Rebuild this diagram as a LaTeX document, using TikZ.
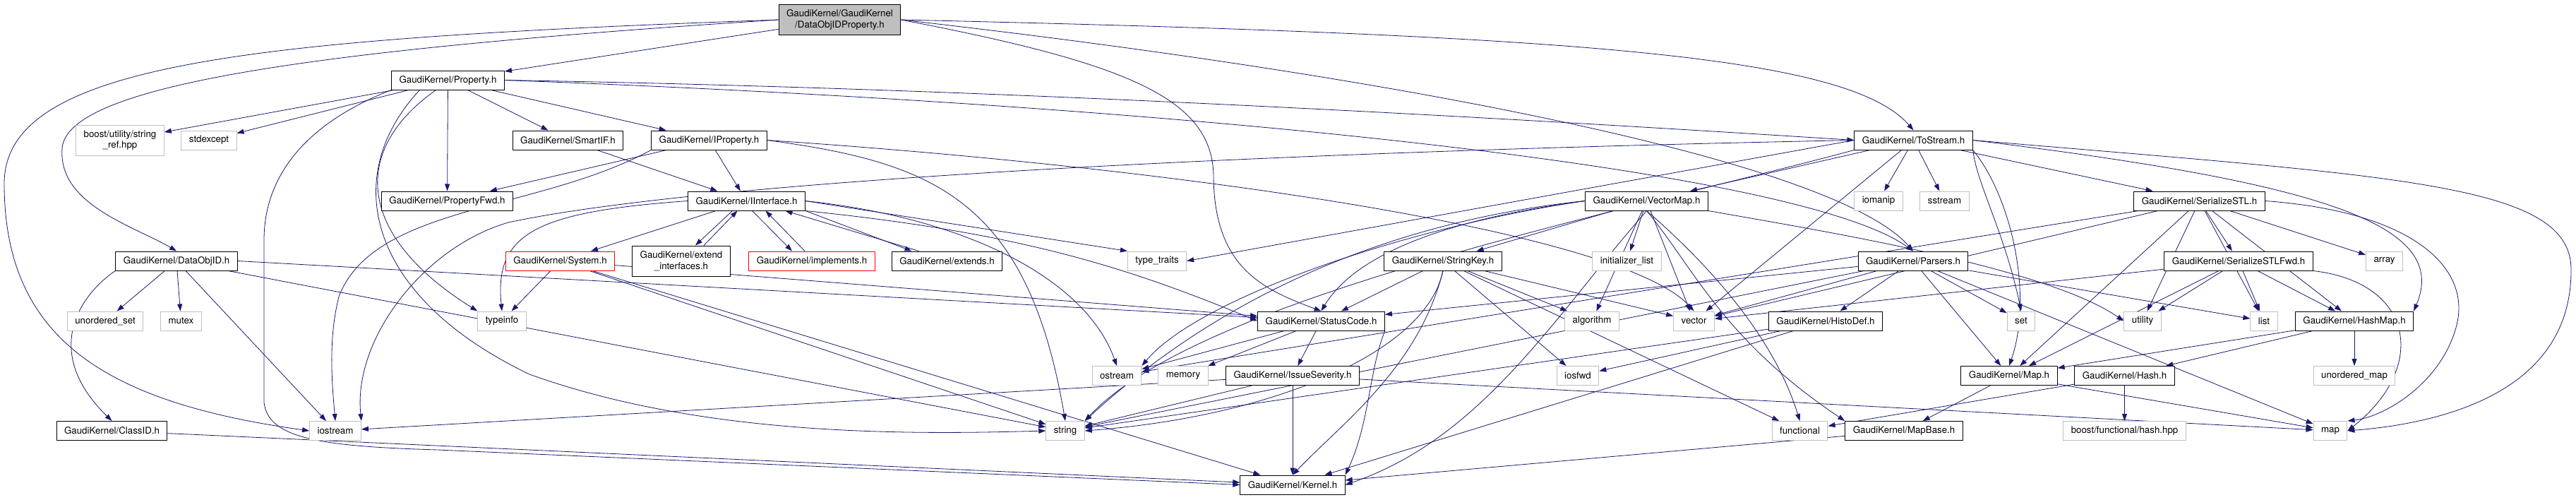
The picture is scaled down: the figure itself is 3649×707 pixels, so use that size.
\documentclass[tikz,border=0pt]{standalone}
\usepackage{fontspec}
\setmainfont{TeX Gyre Heros}
\usetikzlibrary{arrows.meta}
\definecolor{edgeblue}{HTML}{191970}
\definecolor{extgray}{HTML}{BFBFBF}
\pgfdeclarelayer{background}
\pgfsetlayers{background,main}

\begin{document}
\begin{tikzpicture}[x=1pt,y=-1pt,
    file/.style={rectangle,draw=black,fill=white,line width=1pt,inner xsep=11pt,inner ysep=0pt,
      minimum height=27pt,font=\fontsize{13.3}{15.5}\selectfont},
    ext/.style={file,draw=extgray},
    cut/.style={file,draw=red},
    two/.style={align=center,minimum height=43pt},
    dep/.style={draw=edgeblue,line width=0.8pt,-{Triangle[length=10pt,width=7pt]}}]
  \useasboundingbox (0,0) rectangle (3649,707);

  % files, row by row
  \node[file,fill=extgray,two] (root) at (1189.5,28) {GaudiKernel/GaudiKernel\\/DataObjIDProperty.h};
  \node[file] (prop) at (634.5,113.5) {GaudiKernel/Property.h};
  \node[ext,two] (boostref) at (170,198.5) {boost/utility/string\\\_ref.hpp};
  \node[ext] (stdexc) at (296,198.5) {stdexcept};
  \node[file] (smartif) at (804.5,198.5) {GaudiKernel/SmartIF.h};
  \node[file] (iprop) at (1004.5,198.5) {GaudiKernel/IProperty.h};
  \node[file] (tostream) at (2710.5,198.5) {GaudiKernel/ToStream.h};
  \node[file] (propfwd) at (633.5,284.5) {GaudiKernel/PropertyFwd.h};
  \node[file] (iiface) at (1057.5,284.5) {GaudiKernel/IInterface.h};
  \node[file] (vmap) at (2332.5,284.5) {GaudiKernel/VectorMap.h};
  \node[ext] (iomanip) at (2661,284.5) {iomanip};
  \node[ext] (sstream) at (2754.5,284.5) {sstream};
  \node[file] (sstl) at (3115.5,284.5) {GaudiKernel/SerializeSTL.h};
  \node[file] (dataobjid) at (250,369.5) {GaudiKernel/DataObjID.h};
  \node[cut] (system) at (793.5,369.5) {GaudiKernel/System.h};
  \node[file,two] (extif) at (965,369.5) {GaudiKernel/extend\\\_interfaces.h};
  \node[cut] (impl) at (1150,369.5) {GaudiKernel/implements.h};
  \node[file] (extends) at (1341.5,369.5) {GaudiKernel/extends.h};
  \node[ext] (typetraits) at (1639,369.5) {type\_traits};
  \node[file] (strkey) at (2044,369.5) {GaudiKernel/StringKey.h};
  \node[ext] (initlist) at (2304.5,369.5) {initializer\_list};
  \node[file] (parsers) at (2710,369.5) {GaudiKernel/Parsers.h};
  \node[file] (sstlfwd) at (3171,369.5) {GaudiKernel/SerializeSTLFwd.h};
  \node[ext] (array) at (3377.5,369.5) {array};
  \node[ext] (uset) at (149,454.5) {unordered\_set};
  \node[ext] (mutex) at (256.5,454.5) {mutex};
  \node[ext] (typeinfo) at (711,454.5) {typeinfo};
  \node[file] (statuscode) at (1871.5,454.5) {GaudiKernel/StatusCode.h};
  \node[ext] (algorithm) at (2255,454.5) {algorithm};
  \node[ext] (vector) at (2399.5,454.5) {vector};
  \node[file] (histodef) at (2586,454.5) {GaudiKernel/HistoDef.h};
  \node[ext] (set) at (2863,454.5) {set};
  \node[ext] (utility) at (3035,454.5) {utility};
  \node[ext] (list) at (3207,454.5) {list};
  \node[file] (hashmap) at (3335,454.5) {GaudiKernel/HashMap.h};
  \node[ext] (ostream) at (1582,532) {ostream};
  \node[ext] (memory) at (1676,532) {memory};
  \node[file] (issue) at (1831,532) {GaudiKernel/IssueSeverity.h};
  \node[ext] (iosfwd) at (2235,532) {iosfwd};
  \node[file] (maph) at (2846,532) {GaudiKernel/Map.h};
  \node[file] (hash) at (3009.5,532) {GaudiKernel/Hash.h};
  \node[ext] (umap) at (3335,532) {unordered\_map};
  \node[file] (classid) at (158.5,610) {GaudiKernel/ClassID.h};
  \node[ext] (iostream) at (475,610) {iostream};
  \node[ext] (string) at (1509,610) {string};
  \node[ext] (functional) at (2549.5,610) {functional};
  \node[file] (mapbase) at (2697,610) {GaudiKernel/MapBase.h};
  \node[ext] (boosthash) at (3009.5,610) {boost/functional/hash.hpp};
  \node[ext] (map) at (3301,610) {map};
  \node[file] (kernel) at (1831,686.5) {GaudiKernel/Kernel.h};

  \begin{pgfonlayer}{background}
  % DataObjIDProperty.h
  \draw[dep] (root) -- (prop);
  \draw[dep] (root.west) .. controls (450,70) and (95,120) .. (88,210) .. controls (82,290) and (190,320) .. (dataobjid.north);
  \draw[dep] (root.west) .. controls (350,55) and (6,90) .. (6,260) .. controls (6,480) and (150,570) .. (iostream.west);
  \draw[dep] (root.east) .. controls (2250,50) and (2620,80) .. (tostream.north);
  \draw[dep] (root.east) .. controls (2000,110) and (2600,230) .. (parsers.north);
  \draw[dep] (root.east) .. controls (1600,90) and (1718,140) .. (1719,250) .. controls (1720,380) and (1790,410) .. (statuscode.north);

  % Property.h
  \draw[dep] (prop) -- (boostref);
  \draw[dep] (prop) -- (stdexc);
  \draw[dep] (prop) -- (propfwd);
  \draw[dep] (prop) -- (smartif);
  \draw[dep] (prop) -- (iprop);
  \draw[dep] (prop.east) .. controls (1400,125) and (2100,165) .. (tostream.west);
  \draw[dep] (prop.east) .. controls (1700,150) and (2550,240) .. (parsers.north);
  \draw[dep] ([xshift=-17pt]prop.south) .. controls (500,210) and (500,330) .. (typeinfo.north west);
  \draw[dep] ([xshift=-40pt]prop.south) .. controls (480,250) and (520,420) .. (750,530) .. controls (1000,620) and (1300,615) .. (string.west);
  \draw[dep] (prop.south west) .. controls (420,180) and (374,260) .. (374,340) -- (374,570) .. controls (380,620) and (450,632) .. (620,637) -- (kernel.west);

  \draw[dep] (smartif) -- (iiface);

  % IProperty.h
  \draw[dep] (iprop) -- (propfwd);
  \draw[dep] (iprop) -- (iiface);
  \draw[dep] (iprop.south west) .. controls (760,300) and (530,290) .. (480,420) .. controls (465,480) and (470,540) .. (iostream.north);
  \draw[dep] (iprop.east) .. controls (1320,230) and (1455,280) .. (string.north);
  \draw[dep] (iprop.east) .. controls (1700,240) and (2300,330) .. (vector.north);

  % IInterface.h
  \draw[dep] (iiface) -- (system);
  \draw[dep] ([xshift=-20pt]iiface.south) -- ([xshift=20pt]extif.north);
  \draw[dep] ([xshift=32pt]extif.north) -- ([xshift=-13pt]iiface.south);
  \draw[dep] ([xshift=8pt]iiface.south) -- ([xshift=-28pt]impl.north);
  \draw[dep] ([xshift=-10pt]impl.north) -- ([xshift=27pt]iiface.south);
  \draw[dep] (iiface.south east) -- ([xshift=-50pt]extends.north);
  \draw[dep] ([xshift=-40pt]extends.north) -- ([xshift=55pt]iiface.south);
  \draw[dep] (iiface.east) -- (typetraits.north west);
  \draw[dep] (iiface.east) .. controls (1380,310) and (1540,400) .. (ostream.north);
  \draw[dep] (iiface.west) .. controls (760,300) and (700,330) .. (typeinfo.north);
  \draw[dep] (iiface.south east) .. controls (1450,330) and (1600,380) .. (statuscode.west);

  % System.h, DataObjID.h, ClassID.h
  \draw[dep] (system) -- (typeinfo);
  \draw[dep] (system) -- (string);
  \draw[dep] (system) -- (kernel);
  \draw[dep] (system) -- (statuscode);
  \draw[dep] (dataobjid) -- (uset);
  \draw[dep] (dataobjid) -- (mutex);
  \draw[dep] (dataobjid.south west) .. controls (110,420) and (60,500) .. (classid.north);
  \draw[dep] (dataobjid) -- (iostream);
  \draw[dep] (dataobjid) -- (string);
  \draw[dep] (dataobjid.east) -- (statuscode);
  \draw[dep] (classid) -- (kernel);

  % ToStream.h
  \draw[dep] (tostream) -- (iomanip);
  \draw[dep] (tostream) -- (sstream);
  \draw[dep] (tostream) -- (vector);
  \draw[dep] (tostream) -- (vmap);
  \draw[dep] (tostream) -- (sstl);
  \draw[dep] (tostream.west) -- (typetraits.east);
  \draw[dep] (tostream.south east) .. controls (2800,260) and (2840,330) .. (set.north);
  \draw[dep] (tostream.south east) .. controls (2850,280) and (2880,420) .. (maph.north);
  \draw[dep] (tostream.east) .. controls (3300,260) and (3470,320) .. (hashmap.north east);
  \draw[dep] (tostream.east) .. controls (3400,250) and (3640,260) .. (3642,380) .. controls (3644,560) and (3450,600) .. (map.east);
  \draw[dep] (tostream.south west) .. controls (2300,300) and (1700,420) .. (string.north east);
  \draw[dep] (tostream.west) .. controls (1800,215) and (1000,255) .. (720,315) .. controls (600,350) and (500,480) .. (iostream.north east);

  % VectorMap.h
  \draw[dep] (vmap) -- (strkey);
  \draw[dep] (vmap) -- (initlist);
  \draw[dep] (vmap) -- (algorithm);
  \draw[dep] (vmap) -- (vector);
  \draw[dep] (vmap.west) .. controls (2000,320) and (1700,420) .. (ostream.north east);
  \draw[dep] (vmap.west) .. controls (2000,310) and (1750,400) .. (string.north east);
  \draw[dep] (vmap.west) .. controls (2050,310) and (1920,360) .. (statuscode.north);
  \draw[dep] (vmap.south) .. controls (2400,380) and (2440,480) .. (mapbase.north west);
  \draw[dep] (vmap.south) .. controls (2200,450) and (2100,620) .. (kernel.east);
  \draw[dep] (vmap.south east) .. controls (2600,330) and (2900,380) .. (utility.west);
  \draw[dep] (vmap.south) .. controls (2450,400) and (2520,500) .. (functional.north);

  % StringKey.h
  \draw[dep] (strkey) -- (statuscode);
  \draw[dep] (strkey) -- (algorithm);
  \draw[dep] (strkey) -- (vector);
  \draw[dep] (strkey) -- (iosfwd);
  \draw[dep] (strkey) -- (functional);
  \draw[dep] (strkey.south) .. controls (2020,500) and (1800,590) .. (string.east);
  \draw[dep] (strkey.south) .. controls (2010,520) and (1900,600) .. (kernel.north);

  % Parsers.h, HistoDef.h
  \draw[dep] (parsers) -- (statuscode);
  \draw[dep] (parsers) -- (vector);
  \draw[dep] (parsers) -- (histodef);
  \draw[dep] (parsers) -- (set);
  \draw[dep] (parsers) -- (maph);
  \draw[dep] (parsers) -- (map);
  \draw[dep] (parsers) -- (list);
  \draw[dep] (parsers) -- (string);
  \draw[dep] (histodef) -- (iosfwd);
  \draw[dep] (histodef) -- (string);
  \draw[dep] (histodef) -- (kernel);

  % StatusCode.h, IssueSeverity.h
  \draw[dep] (statuscode) -- (ostream);
  \draw[dep] (statuscode) -- (memory);
  \draw[dep] (statuscode) -- (issue);
  \draw[dep] (statuscode.south east) .. controls (1940,520) and (1940,600) .. (kernel.north east);
  \draw[dep] (issue) -- (kernel);
  \draw[dep] (issue) -- (string);
  \draw[dep] (issue) -- (iostream);
  \draw[dep] (issue) -- (map);

  % SerializeSTL.h, SerializeSTLFwd.h
  \draw[dep] (sstl) -- (sstlfwd);
  \draw[dep] (sstl) -- (array);
  \draw[dep] (sstl) -- (vector);
  \draw[dep] (sstl) -- (ostream);
  \draw[dep] (sstl) -- (utility);
  \draw[dep] (sstl) -- (list);
  \draw[dep] (sstl) -- (maph);
  \draw[dep] (sstl.east) .. controls (3420,300) and (3500,380) .. (3480,460) .. controls (3460,540) and (3380,590) .. (map.north east);
  \draw[dep] (sstl) -- (hashmap);
  \draw[dep] (sstlfwd) -- (utility);
  \draw[dep] (sstlfwd) -- (list);
  \draw[dep] (sstlfwd) -- (hashmap);
  \draw[dep] (sstlfwd) -- (vector);
  \draw[dep] (sstlfwd) -- (maph);
  \draw[dep] (sstlfwd.south east) .. controls (3420,400) and (3440,520) .. (map.east);

  % maps and hashes
  \draw[dep] (hashmap) -- (hash);
  \draw[dep] (hashmap) -- (umap);
  \draw[dep] (hashmap) -- (maph);
  \draw[dep] (hash) -- (functional);
  \draw[dep] (hash) -- (boosthash);
  \draw[dep] (maph) -- (mapbase);
  \draw[dep] (maph) -- (map);
  \draw[dep] (mapbase) -- (kernel);
  \end{pgfonlayer}
\end{tikzpicture}
\end{document}
